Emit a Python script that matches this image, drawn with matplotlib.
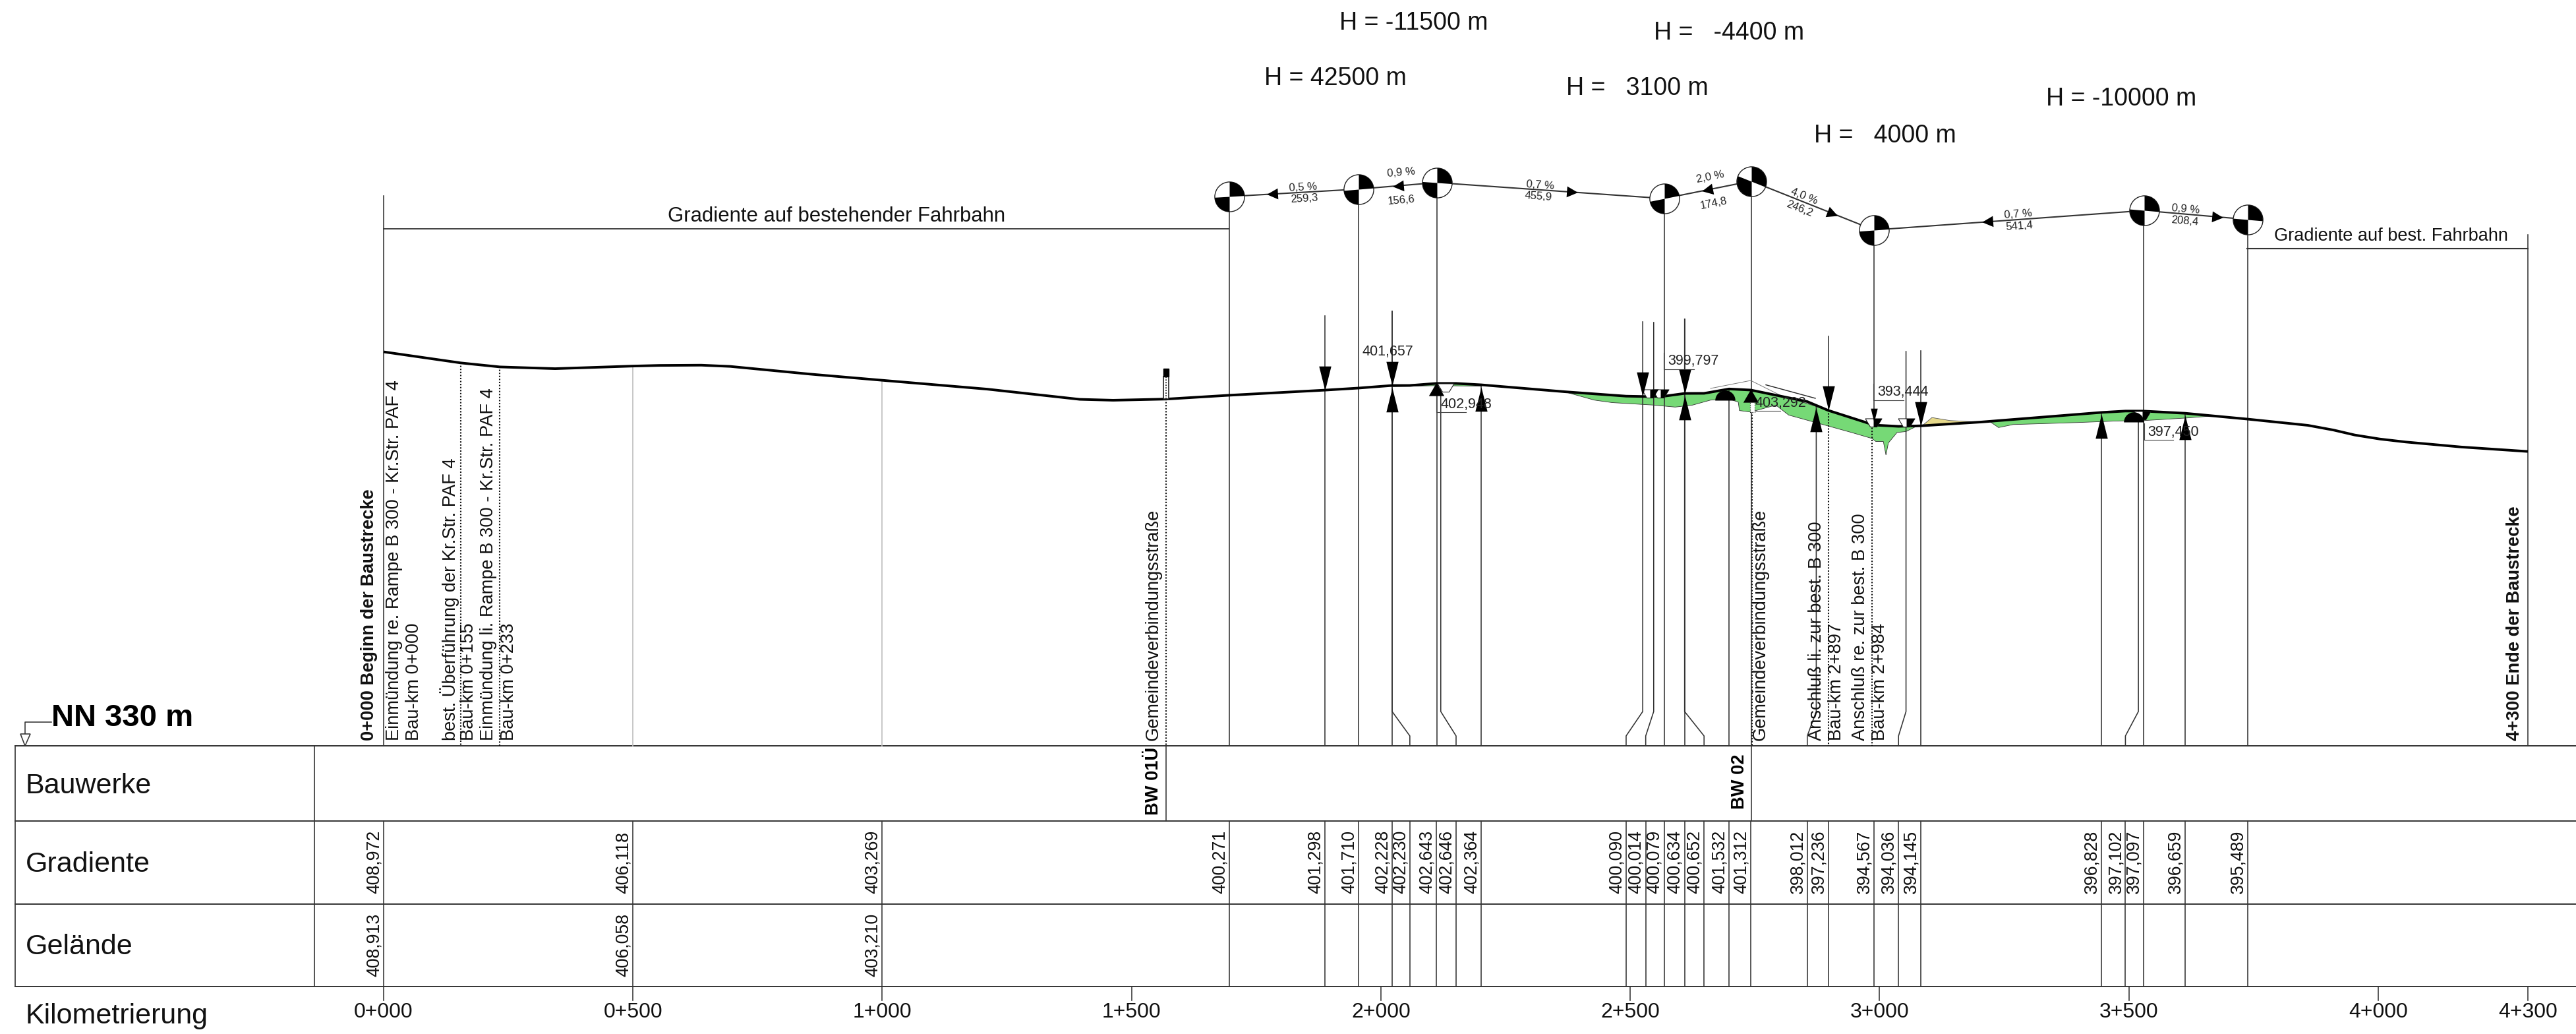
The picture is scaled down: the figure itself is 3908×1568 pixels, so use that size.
import numpy as np
import matplotlib
matplotlib.use('Agg')
import matplotlib.pyplot as plt
from matplotlib.path import Path
from matplotlib.markers import MarkerStyle
from matplotlib.patches import Rectangle

plt.rcParams['font.family'] = ['Liberation Sans', 'DejaVu Sans']

# road profile, station (m) / height (m NN)
prof_st = [0, 155, 233, 344, 500, 553, 637, 695, 856, 1000, 1210, 1396, 1463, 1569, 1696, 1888, 1955,
           2022.5, 2058, 2111, 2150.7, 2201, 2368, 2491.7, 2531, 2568, 2609, 2648, 2698, 2742, 2855, 2897,
           2989, 3038, 3083, 3203, 3445, 3493, 3529, 3613, 3738, 3859, 3910, 3953, 4003, 4055, 4122, 4166, 4300]
prof_el = [408.972, 406.75, 405.95, 405.6, 406.118, 406.25, 406.3, 406.05, 404.5, 403.269, 401.5, 399.45,
           399.27, 399.5, 400.271, 401.298, 401.71, 402.228, 402.23, 402.643, 402.646, 402.364, 400.98,
           400.09, 400.014, 400.079, 400.634, 400.652, 401.532, 401.312, 399.0, 397.236, 394.3, 394.036,
           394.145, 394.9, 396.828, 397.102, 397.097, 396.659, 395.489, 394.24, 393.3, 392.3, 391.5, 390.9, 390.3, 389.9, 389.0]

# green cut areas, lower edge
green1_st = [2367, 2428, 2463.6, 2547, 2590, 2625, 2661, 2698.7, 2716.6, 2719, 2742, 2752, 2792, 2817.7,
             2893.6, 2944, 2985, 2992.5, 3007.6, 3012.8, 3017.6, 3035, 3053, 3071, 3083]
green1_el = [401.0, 399.3, 398.8, 398.3, 397.9, 398.3, 399.3, 399.5, 398.9, 397.2, 396.9, 397.2, 398.3,
             396.3, 394.2, 392.8, 391.6, 391.0, 391.0, 388.3, 390.7, 392.8, 393.0, 393.9, 394.145]
green2_st = [2022.5, 2111, 2201]
green2_el = [402.0, 402.2, 402.1]
green3_st = [3221, 3238.6, 3268, 3396, 3472, 3530, 3613, 3665]
green3_el = [395.0, 393.8, 394.4, 394.8, 395.1, 395.2, 395.7, 396.1]
yellow_st = [3086, 3105, 3141, 3200]
yellow_el = [394.2, 395.8, 395.2, 394.9]

# table rows
grad_st = [0, 500, 1000, 1696, 1888, 1955, 2022.5, 2058, 2111, 2150.7, 2201, 2491.7, 2531, 2568, 2609, 2648,
           2698, 2742, 2855, 2897, 2989, 3038, 3083, 3445, 3493, 3529, 3613, 3738]
grad_txt = ['408,972', '406,118', '403,269', '400,271', '401,298', '401,710', '402,228', '402,230', '402,643',
            '402,646', '402,364', '400,090', '400,014', '400,079', '400,634', '400,652', '401,532', '401,312',
            '398,012', '397,236', '394,567', '394,036', '394,145', '396,828', '397,102', '397,097', '396,659',
            '395,489']
gel_st = [0, 500, 1000]
gel_txt = ['408,913', '406,058', '403,210']
km_st = [0, 500, 1000, 1500, 2000, 2500, 3000, 3500, 4000, 4300]
km_txt = ['0+000', '0+500', '1+000', '1+500', '2+000', '2+500', '3+000', '3+500', '4+000', '4+300']

# grade line on top (drawn 43 m or so above the road)
vpi_st = [1696, 1955.3, 2111.9, 2567.8, 2742.6, 2988.8, 3530.2, 3738.6]
vpi_el = [440.1, 441.6, 442.9, 439.7, 443.2, 433.4, 437.3, 435.5]
pct_txt = ['0,5 %', '0,9 %', '0,7 %', '2,0 %', '4,0 %', '0,7 %', '0,9 %']
len_txt = ['259,3', '156,6', '455,9', '174,8', '246,2', '541,4', '208,4']
dir_st = [1782, 2034, 2383, 2654, 2905, 3216, 3677]
dir_sign = [-1, -1, 1, -1, 1, -1, 1]
h_txt = ['H = -11500 m', 'H =   -4400 m', 'H = 42500 m', 'H =   3100 m', 'H =   4000 m', 'H = -10000 m']

# low / high points and levels
down_st = [1888, 2022.5, 2525, 2609, 2897, 3083]
up_st = [2022.5, 2201, 2609, 2873, 3445, 3613]
up_small_st = [2111, 2742]
level_txt = ['401,657', '402,948', '399,797', '403,292', '393,444', '397,450']

fig = plt.figure(figsize=(39.08, 15.68), dpi=100)
ax = fig.add_axes([0, 0, 1, 1])
ax.set_xlim(-769.3, 4396.6)
ax.set_ylim(272.23, 479.5)
ax.axis('off')


def col(px):
    return ax.transData.inverted().transform((px, 0))[0]


def row(px):
    return ax.transData.inverted().transform((0, 1568 - px))[1]


def ground(st):
    return np.interp(st, prof_st, prof_el)


DARK = '#333333'
LW = 1.15
NN = 330

# areas
for st, el in [(green1_st, green1_el), (green2_st, green2_el), (green3_st, green3_el)]:
    st = np.array(st)
    top = ground(st)
    ax.fill(np.r_[st, st[::-1]], np.r_[el, top[::-1]], facecolor='#76d976', edgecolor='#333333', lw=0.6, zorder=2)
st = np.array(yellow_st)
ax.fill(np.r_[st, st[::-1]], np.r_[yellow_el, ground(st)[::-1]], facecolor='#e6d98a', edgecolor='#555555', lw=0.6, zorder=2)

# table frame
t0, t1, t2, t3 = row(1131), row(1245), row(1371), row(1496)
for y in [t0, t1, t2, t3]:
    ax.plot([col(23), col(3908)], [y, y], color=DARK, lw=1.4, zorder=3)
for px in [23, 477]:
    ax.plot([col(px), col(px)], [t0, t3], color=DARK, lw=1.2, zorder=3)
for s in grad_st:
    ax.plot([s, s], [t1, t3], color=DARK, lw=LW, zorder=3)
for s, t in zip(grad_st, grad_txt):
    ax.text(s - 19, row(1355), t, rotation=90, ha='center', va='bottom', fontsize=19.2, color='#111111', zorder=6)
for s, t in zip(gel_st, gel_txt):
    ax.text(s - 19, row(1481), t, rotation=90, ha='center', va='bottom', fontsize=19.2, color='#111111', zorder=6)
for s, t in zip(km_st, km_txt):
    ax.plot([s, s], [t3, row(1517)], color=DARK, lw=LW)
    ax.text(s, row(1535), t, ha='center', va='center', fontsize=23, color='#111111')
for lab, y in [('Bauwerke', 1192), ('Gradiente', 1311), ('Gelände', 1436), ('Kilometrierung', 1541)]:
    ax.text(col(39), row(y), lab, ha='left', va='center', fontsize=31, color='#111111')

# NN mark
ax.text(col(78), row(1089), 'NN 330 m', ha='left', va='center', fontsize=34, fontweight='bold')
ax.plot([col(78), col(38), col(38)], [row(1095), row(1095), row(1113)], color=DARK, lw=LW)
ax.fill([col(31), col(46), col(38)], [row(1113), row(1113), row(1131)], facecolor='white', edgecolor=DARK, lw=LW, zorder=4)

# straight verticals, top given as picture row or None = from the road
straight = [(0, 297), (1696, 298), (1888, 479), (1955.3, 287), (2022.5, 472), (2111.9, 277), (2201, None),
            (2567.8, 301), (2609, 484), (2698, None), (2742.6, 275), (2897, 510), (2988.8, 349), (3083, 532),
            (3445, None), (3529.5, 319), (3613, None), (3738.6, 333), (4300, 356)]
for s, top in straight:
    y = ground(s) if top is None else row(top)
    if s == 2897:
        ax.plot([s, s], [y, ground(s)], color=DARK, lw=LW, zorder=3)
        continue
    if s == 2988.8:
        ax.plot([s, s], [y, ground(s)], color=DARK, lw=LW, zorder=3)
        continue
    ax.plot([s, s], [y, NN], color=DARK, lw=LW, zorder=3)
for s in [500, 1000]:
    ax.plot([s, s], [ground(s), NN], color='#bdbdbd', lw=1.2, zorder=3)

# lines that kink to their table station near the bottom
kinks = [(2022.5, 2058, 472), (2120, 2150.7, None), (2525, 2491.7, 488), (2547, 2531, 489), (2609, 2648, 484),
         (2873, 2855, None), (3053, 3038, 533), (3519, 3493, None)]
for s0, s1, top in kinks:
    y = ground(s0) if top is None else row(top)
    ax.plot([s0, s0, s1, s1], [y, row(1079), row(1116), NN], color=DARK, lw=LW, zorder=3)

# dotted cross roads
for s in [155, 233, 1569, 2744, 2897, 2985]:
    ax.plot([s, s], [ground(s), NN], color='#111111', lw=1.5, ls=(0, (1, 1.2)), zorder=3)
for s in [1569, 2742.6]:
    ax.plot([s, s], [t0, t1], color=DARK, lw=LW, zorder=3)

# bridge signs
ax.add_patch(Rectangle((1564, ground(1569)), 10, row(571) - ground(1569), facecolor='white', edgecolor='#222222', lw=1.2, zorder=5))
ax.plot([1569, 1569], [ground(1569), row(571)], color='#222222', lw=1.3, ls=(0, (1, 1.2)), zorder=5.5)
ax.add_patch(Rectangle((1564, row(571)), 10, row(559) - row(571), facecolor='black', edgecolor='black', zorder=5))
ax.add_patch(Rectangle((2740, row(625)), 9, row(605) - row(625), facecolor='white', edgecolor='#222222', lw=0.9, ls=':', zorder=5))
ax.plot([col(2595), col(2656), col(2708)], [row(589), row(577), row(603)], color='#777777', lw=0.7, zorder=3)
ax.plot([col(2679), col(2754)], [row(583.6), row(604)], color='#222222', lw=1.0, zorder=3)

# road
ax.plot(prof_st, prof_el, color='black', lw=2.8, zorder=4, solid_capstyle='butt', solid_joinstyle='round')

# arrows on the road
tall_dn = Path([(0, 0), (-0.25, 1), (0.25, 1), (0, 0)])
tall_up = Path([(0, 0), (-0.25, -1), (0.25, -1), (0, 0)])
wide_up = Path([(0, 0), (-0.58, -1), (0.58, -1), (0, 0)])
for s in down_st:
    ax.plot([s], [ground(s)], marker=MarkerStyle(tall_dn), ms=53, color='black', mew=0, zorder=5)
for s in up_st:
    ax.plot([s], [ground(s) - 0.4], marker=MarkerStyle(tall_up), ms=53, color='black', mew=0, zorder=5)
for s in up_small_st:
    ax.plot([s], [ground(s) + 0.2], marker=MarkerStyle(wide_up), ms=29, color='black', mew=0, zorder=5)
ax.plot([2989], [394.9], marker=MarkerStyle(tall_dn), ms=30, color='black', mew=0, zorder=5)

# ditches on the road
ditch = Path([(-1, 1), (1, 1), (0.4, 0), (-0.4, 0), (-1, 1)])
half = Path([(0, 1), (1, 1), (0.4, 0), (0, 0), (0, 1)])
ditch_st = [2539, 2561, 2129, 2987.5, 3053, 3527]
ditch_el = [399.8, 399.8, 401.0, 394.0, 394.0, 395.4]
for s, y in zip(ditch_st, ditch_el):
    ax.plot([s], [y], marker=MarkerStyle(ditch), ms=18, mfc='white', mec='#222222', mew=0.8, zorder=4.5)
    if s != 2129:
        ax.plot([s], [y], marker=MarkerStyle(half), ms=18, color='black', mew=0, zorder=4.6)
dome = Path.wedge(0, 180)
ax.plot([2690, 3510], [399.3, 394.9], ls='', marker=MarkerStyle(dome), ms=22, color='black', mew=0, zorder=5)

# level labels with their short underline
lev_x = [(2067, 2144, 533, None), (2185, 2263, 613, (2179, 2224, 625)), (2530, 2607, 547, (2524, 2570, 559.5)),
         (2662, 2740, 612, (2656, 2701, 623)), (2849, 2925, 595, (2842.5, 2888, 607)),
         (3258, 3336, 655, (3253.5, 3297, 667))]
for t, (x0, x1, y, ul) in zip(level_txt, lev_x):
    ax.text(col((x0 + x1) / 2), row(y), t, ha='center', va='center', fontsize=15.5, color='#222222', zorder=6)
    if ul:
        ax.plot([col(ul[0]), col(ul[0]), col(ul[1])], [row(ul[2] - 25), row(ul[2]), row(ul[2])], color='#444444', lw=0.8, zorder=4)

# side labels standing on the table
side = [(560, 'bold', '0+000 Beginn der Baustrecke'),
        (598, 'normal', 'Einmündung re. Rampe B 300 - Kr.Str. PAF 4'),
        (628, 'normal', 'Bau-km 0+000'),
        (682, 'normal', 'best. Überführung der Kr.Str. PAF 4'),
        (711, 'normal', 'Bau-km 0+155'),
        (741, 'normal', 'Einmündung li. Rampe B 300 - Kr.Str. PAF 4'),
        (772, 'normal', 'Bau-km 0+233'),
        (1750, 'normal', 'Gemeindeverbindungsstraße'),
        (2671, 'normal', 'Gemeindeverbindungsstraße'),
        (2756, 'normal', 'Anschluß li. zur best. B 300'),
        (2786, 'normal', 'Bau-km 2+897'),
        (2822, 'normal', 'Anschluß re. zur best. B 300'),
        (2852, 'normal', 'Bau-km 2+984'),
        (3815, 'bold', '4+300 Ende der Baustrecke')]
for px, w, t in side:
    ax.text(col(px), row(1123), t, rotation=90, ha='center', va='bottom', fontsize=19.6, fontweight=w, color='#111111', zorder=6)
ax.text(col(1750), row(1236), 'BW 01Ü', rotation=90, ha='center', va='bottom', fontsize=19.6, fontweight='bold', zorder=6)
ax.text(col(2639), row(1227), 'BW 02', rotation=90, ha='center', va='bottom', fontsize=19.6, fontweight='bold', zorder=6)

# grade line above
ax.plot(vpi_st, vpi_el, color=DARK, lw=1.5, zorder=3)
pts = ax.transData.transform(np.c_[vpi_st, vpi_el])
ang = np.degrees(np.arctan2(np.diff(pts[:, 1]), np.diff(pts[:, 0])))
tri_r = Path([(1, 0), (-1, 1), (-1, -1), (1, 0)])
tri_l = Path([(-1, 0), (1, 1), (1, -1), (-1, 0)])
for s, d in zip(dir_st, dir_sign):
    i = np.searchsorted(vpi_st, s) - 1
    m = MarkerStyle(tri_r if d > 0 else tri_l)
    m = m.rotated(deg=ang[i])
    ax.plot([s], [np.interp(s, vpi_st, vpi_el)], marker=m, ms=12, color='black', mew=0, zorder=5)

pct_x = [1844, 2040, 2320, 2661, 2849, 3278, 3614]
pct_y = [284, 262, 281, 268, 298, 325, 317]
len_x = [1846, 2041, 2316, 2668, 2839, 3280, 3612]
len_y = [301, 304, 298, 309, 317, 343, 335]
for i in range(7):
    ax.text(pct_x[i], row(pct_y[i]), pct_txt[i], rotation=ang[i], ha='center', va='center', fontsize=12, color='#222222', zorder=6, rotation_mode='anchor')
    ax.text(len_x[i], row(len_y[i]), len_txt[i], rotation=ang[i], ha='center', va='center', fontsize=12, color='#222222', zorder=6, rotation_mode='anchor')

# circles with the black quarters
for i, (s, y) in enumerate(zip(vpi_st, vpi_el)):
    a = ang[i] if i < len(ang) else ang[-1]
    ax.plot([s], [y], marker='o', ms=32.5, mfc='white', mec='#222222', mew=1.0, zorder=6)
    q = Path.make_compound_path(Path.wedge(a, 90), Path.wedge(180 + a, 270))
    ax.plot([s], [y], marker=MarkerStyle(q), ms=32.5, color='black', mew=0, zorder=7)

h_x = [2145, 2623, 2026, 2484, 2860, 3218]
h_y = [35, 50, 119, 134, 206, 150]
for t, x, y in zip(h_txt, h_x, h_y):
    ax.text(col(x), row(y), t, ha='center', va='center', fontsize=27, color='#111111')

# existing road brackets
ax.plot([col(582), col(1864)], [row(347), row(347)], color=DARK, lw=1.3)
ax.text(col(1269), row(328), 'Gradiente auf bestehender Fahrbahn', ha='center', va='center', fontsize=22.4, color='#111111')
ax.plot([col(3409), col(3835)], [row(377), row(377)], color=DARK, lw=1.5)
ax.text(col(3627), row(358), 'Gradiente auf best. Fahrbahn', ha='center', va='center', fontsize=19.5, color='#111111')

fig.savefig('out.png', dpi=100, facecolor='white')
